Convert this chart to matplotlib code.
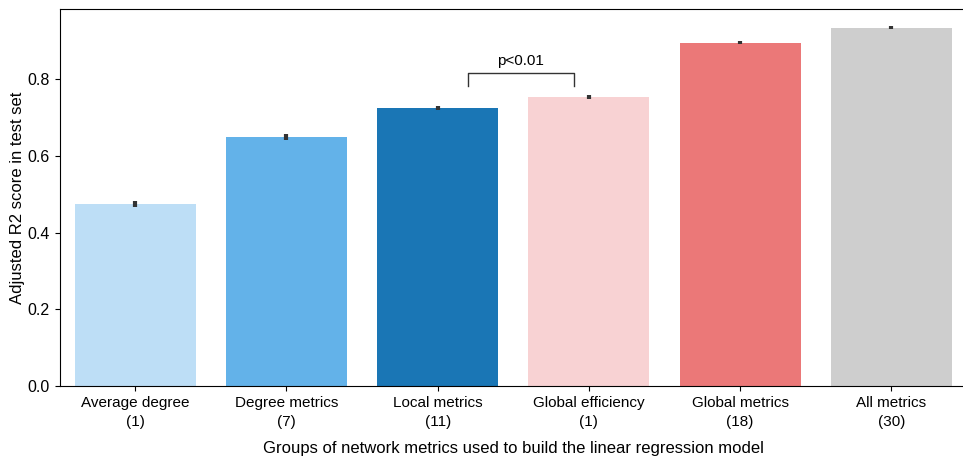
import matplotlib.pyplot as plt
import numpy as np

plt.rcParams['font.family'] = ['Liberation Sans', 'DejaVu Sans']

groups = ['Average degree\n(1)', 'Degree metrics\n(7)', 'Local metrics\n(11)',
          'Global efficiency\n(1)', 'Global metrics\n(18)', 'All metrics\n(30)']
r2_mean = [0.474, 0.649, 0.725, 0.753, 0.894, 0.934]
r2_err = [0.008, 0.007, 0.005, 0.006, 0.004, 0.004]
colors = ['#bddef6', '#63b2e9', '#1a76b5', '#f8d2d3', '#eb7878', '#cecece']

fig = plt.figure(figsize=(9.63, 4.58), dpi=100)
ax = fig.add_axes([0.062, 0.157, 0.942, 0.823])

x = np.arange(len(groups))
ax.bar(x, r2_mean, width=0.8, color=colors, yerr=r2_err,
       error_kw=dict(ecolor='#333333', elinewidth=3, capsize=0))

# significance bracket between local metrics and global efficiency
bx0, bx1, by, bh = 2.2, 2.9, 0.782, 0.034
ax.plot([bx0, bx0, bx1, bx1], [by, by + bh, by + bh, by], color='#333333', lw=1)
ax.text((bx0 + bx1) / 2, by + bh + 0.012, 'p<0.01', ha='center', va='bottom', fontsize=11)

ax.set_xlim(-0.5, 5.5)
ax.set_ylim(0, 0.982)
ax.set_xticks(x)
ax.set_xticklabels(groups, fontsize=11, linespacing=1.45)
ax.set_yticks([0.0, 0.2, 0.4, 0.6, 0.8])
ax.tick_params(axis='y', labelsize=11.5)
ax.set_ylabel('Adjusted R2 score in test set', fontsize=12, labelpad=2)
ax.set_xlabel('Groups of network metrics used to build the linear regression model', fontsize=12, labelpad=9)

plt.savefig('out.png', dpi=100)
